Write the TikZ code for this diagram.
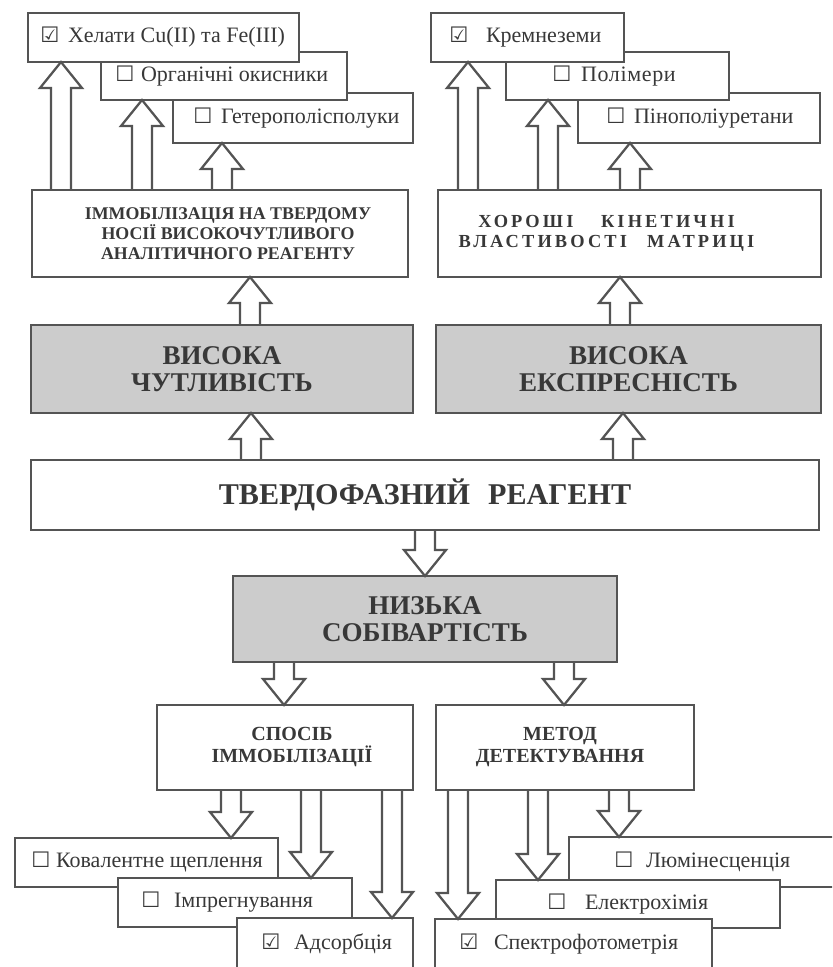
\documentclass[tikz,border=0pt]{standalone}
\usepackage{fontspec}
\setmainfont{Liberation Serif}
\newfontfamily\symfont{DejaVu Sans}
\usetikzlibrary{calc}
\definecolor{ln}{gray}{0.33}
\definecolor{txt}{gray}{0.22}
\definecolor{shade}{gray}{0.80}
\newdimen\pxu \pxu=0.75pt
\newcommand\unch{\makebox[16\pxu][c]{\symfont\fontsize{16}{16}\selectfont ☐}}
\newcommand\chk{\makebox[16\pxu][c]{\symfont\fontsize{16}{16}\selectfont ☑}}
\newcommand\gap[1]{\hspace*{#1\pxu}}
% plain box: style, name, x1, y1, x2, y2, text
\newcommand\bx[7]{%
  \pgfmathsetmacro\bw{(#5-#3)*0.75}%
  \pgfmathsetmacro\bh{(#6-#4)*0.75}%
  \node[#1, minimum width=\bw pt, minimum height=\bh pt] (#2) at ({(#3+#5)/2},{(#4+#6)/2}) {#7};}
% item box: name, x1, y1, x2, y2, left pad, text
\newcommand\itm[7]{%
  \pgfmathsetmacro\bw{(#4-#2)*0.75}%
  \pgfmathsetmacro\bh{(#5-#3)*0.75}%
  \pgfmathsetmacro\tw{(#4-#2-2*#6)*0.75}%
  \pgfmathsetmacro\ps{#6*0.75}%
  \node[item, minimum width=\bw pt, minimum height=\bh pt, inner xsep=\ps pt] (#1) at ({(#2+#4)/2},{(#3+#5)/2}) {\makebox[\tw pt][l]{#7}};}
\newcommand\blkup[3]{%
  \draw[blk] let \p1=(#1.north), \p2=(#2.south), \n1={#3*0.75} in
    ({\n1*1pt-7.5pt},\y1) -- ({\n1*1pt-7.5pt},{\y2-19.5pt}) -- ({\n1*1pt-15.75pt},{\y2-19.5pt})
    -- ({\n1*1pt},\y2) -- ({\n1*1pt+15.75pt},{\y2-19.5pt}) -- ({\n1*1pt+7.5pt},{\y2-19.5pt})
    -- ({\n1*1pt+7.5pt},\y1);}
\newcommand\blkdown[3]{%
  \draw[blk] let \p1=(#1.south), \p2=(#2.north), \n1={#3*0.75} in
    ({\n1*1pt-7.5pt},\y1) -- ({\n1*1pt-7.5pt},{\y2+19.5pt}) -- ({\n1*1pt-15.75pt},{\y2+19.5pt})
    -- ({\n1*1pt},\y2) -- ({\n1*1pt+15.75pt},{\y2+19.5pt}) -- ({\n1*1pt+7.5pt},{\y2+19.5pt})
    -- ({\n1*1pt+7.5pt},\y1);}
\tikzset{
  box/.style={draw=ln, line width=1.9pt, fill=white, inner sep=0pt, outer sep=0pt, text=txt, align=center},
  greybox/.style={box, fill=shade},
  item/.style={box, font=\fontsize{16.5}{19}\selectfont},
  headtxt/.style={font=\bfseries\fontsize{13.4}{15}\selectfont},
  spacedtxt/.style={font=\bfseries\fontsize{13.8}{15}\selectfont\addfontfeature{LetterSpace=17}},
  midtxt/.style={font=\bfseries\fontsize{15}{16.5}\selectfont},
  bigtxt/.style={font=\bfseries\fontsize{20.3}{20.5}\selectfont},
  hugetxt/.style={font=\bfseries\fontsize{22.6}{24}\selectfont},
  blk/.style={draw=ln, line width=1.7pt, line join=miter},
}
\begin{document}
\begin{tikzpicture}[x=0.75pt,y=-0.75pt]
\clip (0,0) rectangle (832,967);
\fill[white] (0,0) rectangle (832,967);
% top left stack (back to front)
\itm{het}{173}{93}{413}{143}{22}{\unch\gap{10}Гетерополісполуки}
\itm{org}{101}{52}{347}{100}{16}{\unch\gap{8}Органічні окисники}
\itm{hel}{28}{13}{299}{62}{14}{\chk\gap{10}Хелати Cu(II) та Fe(III)}
\bx{box, headtxt}{immob}{32}{190}{408}{277}{\gap{16}ІММОБІЛІЗАЦІЯ НА ТВЕРДОМУ\\\gap{16}НОСІЇ ВИСОКОЧУТЛИВОГО\\\gap{16}АНАЛІТИЧНОГО РЕАГЕНТУ}
% top right stack
\itm{pino}{578}{93}{820}{143}{30}{\unch\gap{10}Пінополіуретани}
\itm{poli}{506}{52}{729}{100}{48}{\unch\gap{11}{\addfontfeature{LetterSpace=3}Полімери}}
\itm{krem}{431}{13}{624}{62}{20}{\chk\gap{19}Кремнеземи}
\bx{box, spacedtxt}{good}{438}{190}{821}{277}{ХОРОШІ\hspace{1.5em}КІНЕТИЧНІ\gap{46}\\ВЛАСТИВОСТІ\hspace{1.1em}МАТРИЦІ\gap{46}}
% middle
\bx{greybox, bigtxt}{vch}{31}{325}{413}{413}{ВИСОКА\\ЧУТЛИВІСТЬ}
\bx{greybox, bigtxt}{vexp}{436}{325}{821}{413}{ВИСОКА\\ЕКСПРЕСНІСТЬ}
\bx{box, hugetxt}{tverd}{31}{460}{819}{530}{ТВЕРДОФАЗНИЙ\hspace{0.6em}РЕАГЕНТ}
\bx{greybox, bigtxt}{nizk}{233}{576}{617}{662}{НИЗЬКА\\СОБІВАРТІСТЬ}
\bx{box, midtxt}{spos}{157}{705}{413}{790}{\gap{14}СПОСІБ\\\gap{14}ІММОБІЛІЗАЦІЇ}
\bx{box, midtxt}{metod}{436}{705}{694}{790}{МЕТОД\gap{10}\\ДЕТЕКТУВАННЯ\gap{10}}
% bottom left stack (back to front)
\itm{kov}{15}{838}{278}{887}{18}{\unch\gap{7}Ковалентне щеплення}
\itm{impr}{118}{878}{352}{927}{25}{\unch\gap{15}Імпрегнування}
\itm{adso}{237}{918}{413}{969.5}{26}{\chk\gap{15}Адсорбція}
% bottom right stack (back to front)
\itm{lum}{569}{837}{845}{887}{47}{\unch\gap{14}Люмінесценція}
\itm{elek}{496}{880}{780}{928}{53}{\unch\gap{20}Електрохімія}
\itm{spek}{435}{919}{712}{969.5}{26}{\chk\gap{17}Спектрофотометрія}
% arrows
\blkup{immob}{hel}{61}
\blkup{immob}{org}{142}
\blkup{immob}{het}{222}
\blkup{good}{krem}{468}
\blkup{good}{poli}{548}
\blkup{good}{pino}{630}
\blkup{vch}{immob}{250}
\blkup{vexp}{good}{620}
\blkup{tverd}{vch}{251}
\blkup{tverd}{vexp}{623}
\blkdown{tverd}{nizk}{425}
\blkdown{nizk}{spos}{284}
\blkdown{nizk}{metod}{564}
\blkdown{spos}{kov}{231}
\blkdown{spos}{impr}{311}
\blkdown{spos}{adso}{392}
\blkdown{metod}{spek}{458}
\blkdown{metod}{elek}{538}
\blkdown{metod}{lum}{619}
\end{tikzpicture}
\end{document}
